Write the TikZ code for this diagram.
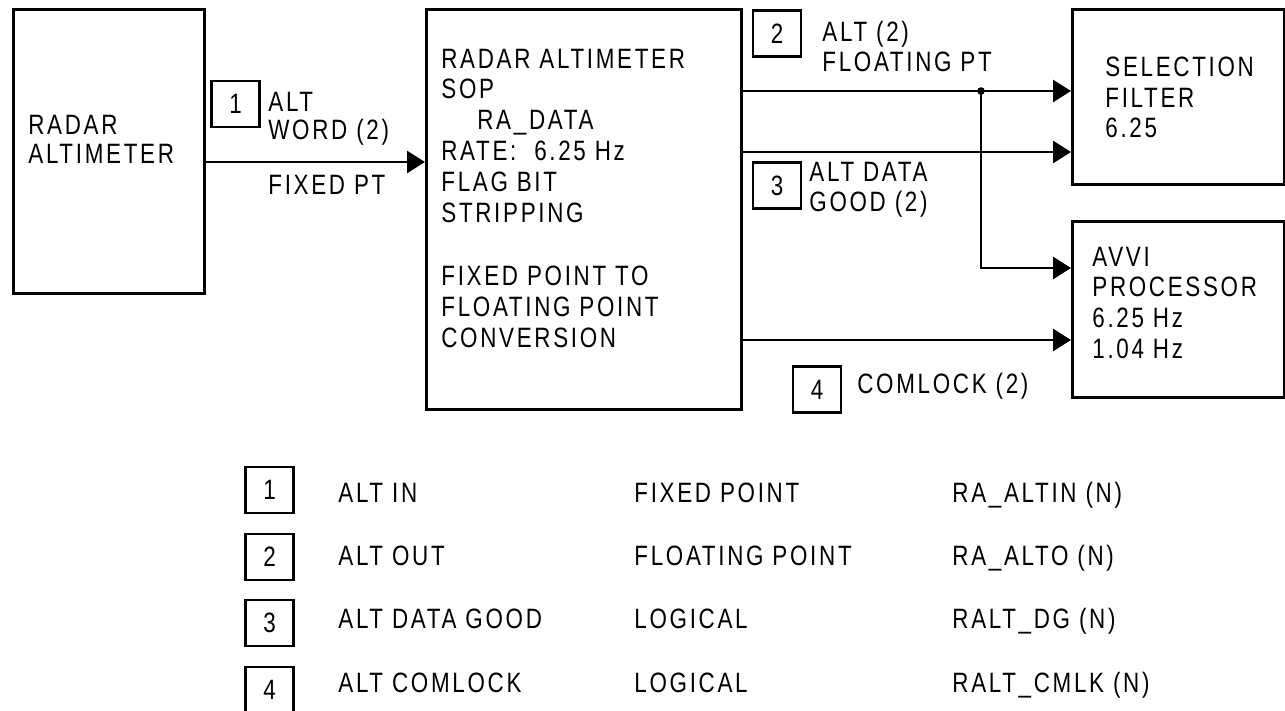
\documentclass[tikz,border=0pt]{standalone}
\usepackage{fontspec}
\setmainfont{Liberation Sans}[FakeStretch=0.8,LetterSpace=9.6]
\usetikzlibrary{arrows.meta, positioning, calc}

\tikzset{
  blk/.style={draw, line width=1.4pt, inner sep=0pt, anchor=north west},
  tag/.style={draw, line width=1.3pt, minimum width=24pt, minimum height=23pt, inner sep=0pt},
  txt/.style={anchor=base west, inner sep=0pt, align=left},
  flow/.style={line width=1.4pt, -{Triangle[length=9pt,width=11pt]}},
}

\begin{document}
\begin{tikzpicture}[x=0.5pt, y=-0.5pt, every node/.style={font=\fontsize{14}{15.5}\selectfont}]
  \useasboundingbox (0,0) rectangle (1285,711);

  % processing blocks (text nodes anchored at their last baseline)
  \node[blk, minimum width=95.5pt, minimum height=142pt] (ra) at (12,8) {};
  \node[blk, minimum width=157.5pt, minimum height=200pt] (sop) at (425,8) {};
  \node[blk, minimum width=106pt, minimum height=87.5pt] (sel) at (1071,8) {};
  \node[blk, minimum width=106pt, minimum height=88pt] (avvi) at (1071,220) {};

  \node[txt, font=\fontsize{14}{14.5}\selectfont] (raname) at (28,164) {RADAR\\ALTIMETER};
  \node[txt] (sopname) at (441,347) {RADAR ALTIMETER\\SOP\\\hspace*{18pt}RA\_DATA\\RATE:\ \ 6.25 Hz\\FLAG BIT\\STRIPPING\\[15.5pt]FIXED POINT TO\\FLOATING POINT\\CONVERSION};
  \node[txt, font=\fontsize{14}{15.3}\selectfont] (selname) at (1105,138) {SELECTION\\FILTER\\6.25};
  \node[txt, font=\fontsize{14}{15.3}\selectfont] (avviname) at (1092,358) {AVVI\\PROCESSOR\\6.25 Hz\\1.04 Hz};

  % signal tags and labels
  \node[tag] (t1) at (235.5,104) {1};
  \node[txt, font=\fontsize{14}{14}\selectfont] (l1) at (268,140) {ALT\\WORD (2)};
  \node[txt] (l1b) at (268,195) {FIXED PT};
  \node[tag] (t2) at (777,33.5) {2};
  \node[txt, font=\fontsize{14}{15}\selectfont] (l2) at (822,72) {ALT (2)\\FLOATING PT};
  \node[tag] (t3) at (777,185.5) {3};
  \node[txt, font=\fontsize{14}{15}\selectfont] (l3) at (809,212) {ALT DATA\\GOOD (2)};
  \node[tag] (t4) at (817,389.5) {4};
  \node[txt] (l4) at (857,393) {COMLOCK (2)};

  % connectors
  \draw[flow] (ra.east |- 0,162) -- (sop.west |- 0,162);
  \draw[flow] (sop.east |- 0,91) -- (sel.west |- 0,91);
  \draw[flow] (sop.east |- 0,152) -- (sel.west |- 0,152);
  \coordinate (split) at (981,91);
  \fill (split) circle (1.9pt);
  \draw[flow] (split) |- (avvi.west |- 0,268);
  \draw[flow] (sop.east |- 0,340) -- (avvi.west |- 0,340);

  % legend
  \foreach \k/\by/\ty/\sig/\fmt/\var in {1/490/502/ALT IN/FIXED POINT/RA\_ALTIN (N),
      2/557/565/ALT OUT/FLOATING POINT/RA\_ALTO (N),
      3/623/628/ALT DATA GOOD/LOGICAL/RALT\_DG (N),
      4/690/692/ALT COMLOCK/LOGICAL/RALT\_CMLK (N)} {
    \node[tag] (key\k) at (269.5,\by) {\k};
    \node[txt] (sig\k) at (338,\ty) {\sig};
    \node[txt] (fmt\k) at (634,\ty) {\fmt};
    \node[txt] (var\k) at (952,\ty) {\var};
  }
\end{tikzpicture}
\end{document}
